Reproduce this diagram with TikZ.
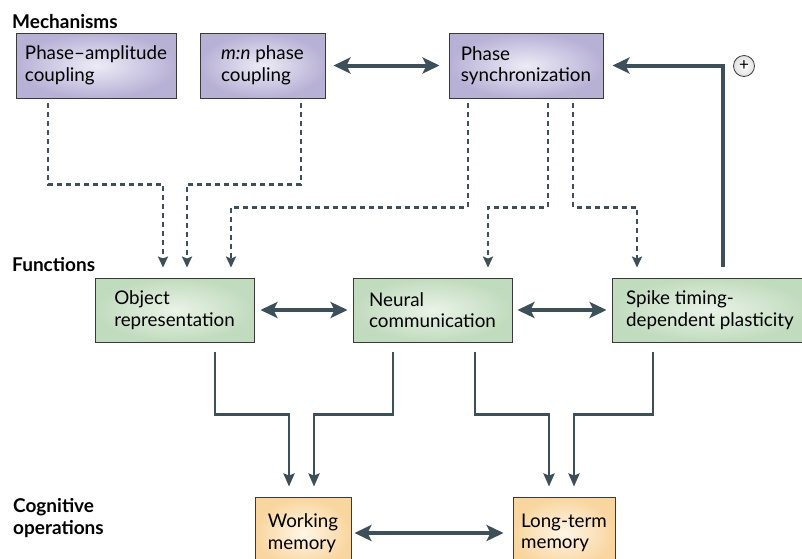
\documentclass[tikz,border=0pt]{standalone}
\usepackage{fontspec}
\setmainfont{Lato}
\usetikzlibrary{arrows.meta}
\definecolor{linkgray}{HTML}{3D4F59}
\definecolor{boxedge}{HTML}{3A3A3A}
\definecolor{mechin}{HTML}{EDEBF6}
\definecolor{mechout}{HTML}{B8B1D6}
\definecolor{funcin}{HTML}{EAF3E8}
\definecolor{funcout}{HTML}{C1DBBE}
\definecolor{cognin}{HTML}{FFF6E6}
\definecolor{cognout}{HTML}{F9D59F}
\tikzset{
  box/.style={draw=boxedge, line width=0.9pt, align=left, inner sep=0pt,
    font=\fontsize{18.8}{21.5}\selectfont},
  mech/.style={box, shade, inner color=mechin, outer color=mechout, minimum height=65pt},
  func/.style={box, shade, inner color=funcin, outer color=funcout, minimum height=64pt},
  cogn/.style={box, shade, inner color=cognin, outer color=cognout, minimum height=72pt},
  lab/.style={anchor=west, align=left, inner sep=0pt, font=\fontsize{19}{21.5}\selectfont\bfseries},
  link/.style={draw=linkgray, line width=2.7pt, line join=miter,
    -{Stealth[length=13pt, width=11pt, inset=2pt]}, shorten <=10pt, shorten >=10pt},
  dlink/.style={draw=linkgray, line width=2.8pt, dash pattern=on 5pt off 4pt,
    -{Stealth[length=11pt, width=10pt, inset=2pt]}, shorten <=5pt, shorten >=10pt},
  both/.style={draw=linkgray, line width=4pt,
    {Stealth[length=17pt, width=16pt, inset=4pt]}-{Stealth[length=17pt, width=16pt, inset=4pt]}},
  fback/.style={draw=linkgray, line width=4pt, line join=miter,
    -{Stealth[length=17pt, width=16pt, inset=4pt]}, shorten <=11pt, shorten >=9pt},
  plusmark/.style={circle, draw=boxedge, line width=0.8pt, shade, inner color=white,
    outer color=black!12, minimum size=21pt, inner sep=0pt, font=\fontsize{17}{17}\selectfont},
}
\begin{document}
\begin{tikzpicture}[x=1pt, y=1pt, yscale=-1]
\useasboundingbox (0,0) rectangle (802,558);
\clip (0,0) rectangle (802,558);
% row labels
\path (12,22) node[lab] (mechlab) {Mechanisms};
\path (12,265) node[lab] (funclab) {Functions};
\path (13,518) node[lab] (cognlab) {Cognitive\\operations};
% mechanisms
\path (96,65.5) node[mech, minimum width=160pt] (pac) {Phase--amplitude\\coupling};
\path (262.5,65.5) node[mech, minimum width=125pt] (mn) {\textit{m:n} phase\\coupling};
\path (526,65.5) node[mech, minimum width=154pt] (ps) {Phase\\synchronization};
% functions
\path (174.5,310) node[func, minimum width=159pt] (obj) {Object\\representation};
\path (432.5,310) node[func, minimum width=159pt] (neu) {Neural\\communication};
\path (710,310) node[func, minimum width=196pt] (stdp) {Spike timing-\\dependent plasticity};
% cognitive operations
\path (303,533) node[cogn, minimum width=96pt] (wm) {Working\\memory};
\path (564,533) node[cogn, minimum width=102pt] (ltm) {Long-term\\memory};
\path (744,66) node[plusmark] (plus) {+};
% mechanisms -> functions
\draw[dlink] ([xshift=-48pt]pac.south) -- ++(0,86) -| ([xshift=-11.5pt]obj.north);
\draw[dlink] ([xshift=38.5pt]mn.south) -- ++(0,86) -| ([xshift=12.5pt]obj.north);
\draw[dlink] ([xshift=-58pt]ps.south) -- ++(0,109) -| ([xshift=56.5pt]obj.north);
\draw[dlink] ([xshift=22pt]ps.south) -- ++(0,109) -| ([xshift=55.5pt]neu.north);
\draw[dlink] ([xshift=47pt]ps.south) -- ++(0,109) -| ([xshift=-73pt]stdp.north);
% functions -> cognitive operations
\draw[link] ([xshift=40.5pt]obj.south) -- ++(0,72) -| ([xshift=-14pt]wm.north);
\draw[link] ([xshift=-39.5pt]neu.south) -- ++(0,72) -| ([xshift=11pt]wm.north);
\draw[link] ([xshift=42.5pt]neu.south) -- ++(0,72) -| ([xshift=-15pt]ltm.north);
\draw[link] ([xshift=-57pt]stdp.south) -- ++(0,72) -| ([xshift=10pt]ltm.north);
% two-way links
\draw[both, shorten <=8pt, shorten >=9pt] (mn.east) -- (ps.west);
\draw[both, shorten <=6pt, shorten >=5pt] (obj.east) -- (neu.west);
\draw[both, shorten <=5pt, shorten >=5pt] (neu.east) -- (stdp.west);
\draw[both, shorten <=3pt, shorten >=9pt] (wm.east) -- (ltm.west);
% feedback
\draw[fback] ([xshift=13pt]stdp.north) |- (ps.east);
\end{tikzpicture}
\end{document}
